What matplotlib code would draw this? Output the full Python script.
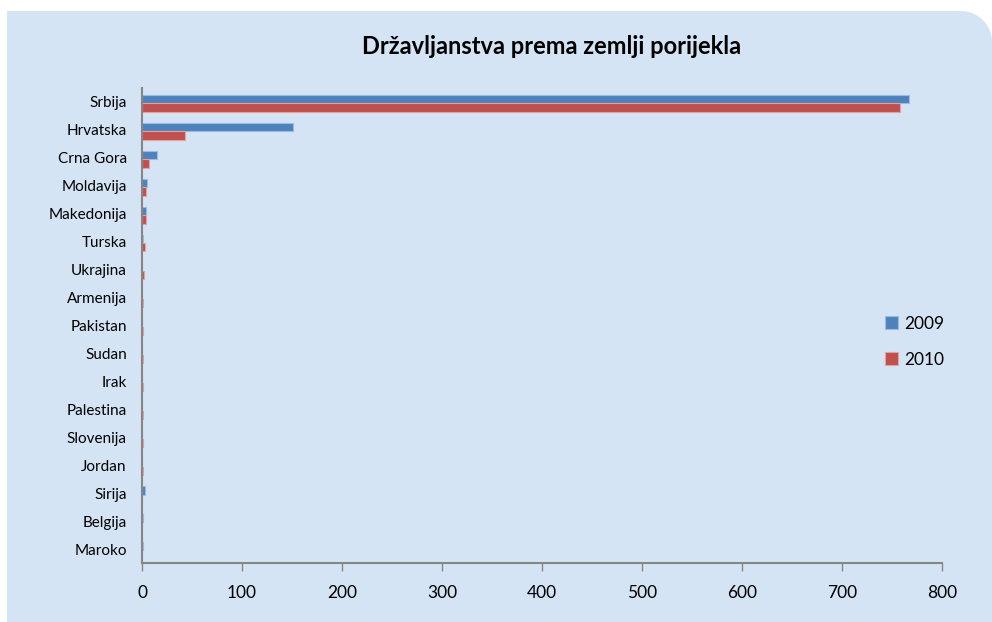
import numpy as np
import matplotlib
matplotlib.use("Agg")
import matplotlib.pyplot as plt
from matplotlib.patches import Polygon

plt.rcParams["font.family"] = ["Lato", "DejaVu Sans"]

# citizenship grants by country of origin
countries = ["Srbija", "Hrvatska", "Crna Gora", "Moldavija", "Makedonija", "Turska",
             "Ukrajina", "Armenija", "Pakistan", "Sudan", "Irak", "Palestina",
             "Slovenija", "Jordan", "Sirija", "Belgija", "Maroko"]
y2009 = [767, 151, 15, 5, 4, 1, 0, 0, 0, 0, 0, 0, 0, 0, 3, 1, 1]
y2010 = [758, 43, 7, 4, 4, 3, 2, 1, 1, 1, 1, 1, 1, 1, 0, 0, 0]

W, H = 992, 622
fig = plt.figure(figsize=(W / 100, H / 100), dpi=100)
fig.patch.set_facecolor("white")

# light blue panel with rounded top-right corner
r = 31
ang = np.linspace(np.pi / 2, 0, 20)
arc = np.column_stack([W - r + r * np.cos(ang), 11 + r - r * np.sin(ang)])
pts = np.vstack([[[7, 11]], arc, [[W, H], [7, H]]])
pts = np.column_stack([pts[:, 0] / W, 1 - pts[:, 1] / H])
fig.patches.append(Polygon(pts, closed=True, transform=fig.transFigure,
                           facecolor="#d5e4f4", edgecolor="none", zorder=-1))

ax = fig.add_axes([142 / W, (H - 563) / H, 800 / W, (563 - 88) / H])
ax.set_facecolor("none")
ax.set_zorder(1)

pos = np.arange(len(countries))
h = 0.3
ax.barh(pos - h / 2 + 0.05, y2009, height=h, color="#4f81bd", edgecolor="#9bbbe0",
        linewidth=0.8, label="2009")
ax.barh(pos + h / 2 + 0.05, y2010, height=h, color="#c0504d", edgecolor="#e0a3a1",
        linewidth=0.8, label="2010")

ax.set_ylim(len(countries) - 0.5, -0.5)
ax.set_xlim(0, 800)
ax.set_xticks(range(0, 801, 100))
ax.set_yticks(pos)
ax.set_yticklabels(countries, fontsize=11)
ax.tick_params(axis="y", length=0, pad=11)
ax.tick_params(axis="x", length=6, width=1, color="#868686", labelsize=12.5, pad=10)

for s in ["top", "right"]:
    ax.spines[s].set_visible(False)
for s in ["left", "bottom"]:
    ax.spines[s].set_color("#868686")
    ax.spines[s].set_linewidth(1.5)

fig.text(552 / W, 1 - 47 / H, "Državljanstva prema zemlji porijekla",
         ha="center", va="center", fontsize=17, fontweight="bold")

ax.legend(loc="upper left", bbox_to_anchor=(869 / W, 1 - 300 / H),
          bbox_transform=fig.transFigure, frameon=False, fontsize=12.5,
          handlelength=0.75, handleheight=0.75, handletextpad=0.4,
          labelspacing=1.15)

fig.savefig("out.png", dpi=100)
